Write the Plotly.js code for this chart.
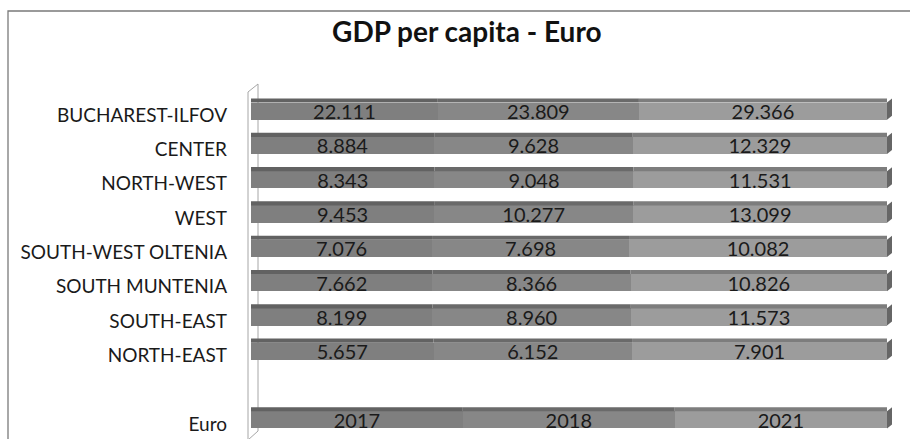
<!DOCTYPE html>
<html>
<head>
<meta charset="utf-8">
<script src="https://cdn.plot.ly/plotly-3.0.1.min.js"></script>
<style>
html,body{margin:0;padding:0;background:#fff;}
#chart{width:910px;height:439px;}
</style>
</head>
<body>
<div id="chart"></div>
<script>
// ---- data ----
var regions = ['BUCHAREST-ILFOV','CENTER','NORTH-WEST','WEST','SOUTH-WEST OLTENIA','SOUTH MUNTENIA','SOUTH-EAST','NORTH-EAST','Euro'];
var years = ['2017','2018','2021'];
var v2017 = [22.111, 8.884, 8.343, 9.453, 7.076, 7.662, 8.199, 5.657, 2017];
var v2018 = [23.809, 9.628, 9.048, 10.277, 7.698, 8.366, 8.960, 6.152, 2018];
var v2021 = [29.366, 12.329, 11.531, 13.099, 10.082, 10.826, 11.573, 7.901, 2021];

// ---- styling ----
var faceColors = ['#7f7f7f', '#878787', '#9c9c9c'];
var topColors  = ['#626262', '#6a6a6a', '#7d7d7d'];
var capColor = '#666666';
var FONT = 'Lato, "Open Sans", sans-serif';
var BARW = 0.5;

// row positions: one empty slot before the last row
var pos = regions.map(function(r, i){ return i < regions.length - 1 ? i : i + 1; });

function fmt(v){ return v >= 1000 ? String(v) : v.toFixed(3); }

var series = [v2017, v2018, v2021];
var traces = series.map(function(vals, k){
  return {
    type: 'bar', orientation: 'h', name: years[k],
    x: vals, y: pos,
    width: BARW,
    marker: {color: faceColors[k], line: {width: 0}},
    text: vals.map(fmt),
    textposition: 'inside', insidetextanchor: 'middle',
    insidetextfont: {family: FONT, size: 20, color: '#1a1a1a'},
    textangle: 0, constraintext: 'none',
    hoverinfo: 'skip'
  };
});

var shapes = [];
// outer frame
shapes.push({type:'rect', xref:'paper', yref:'paper', xsizemode:'pixel', ysizemode:'pixel',
  xanchor:0, yanchor:1, x0:-243, x1:700, y0:83, y1:-400,
  line:{color:'#7a7a7a', width:1.3}, fillcolor:'rgba(0,0,0,0)', layer:'below'});
// 3D wall on the left
shapes.push({type:'path', xref:'paper', yref:'paper', xsizemode:'pixel', ysizemode:'pixel',
  xanchor:0, yanchor:0, path:'M-3,-3 L-3,345 L7,353 L7,6 Z',
  line:{color:'#a6a6a6', width:1}, fillcolor:'rgba(255,255,255,0)', layer:'below'});

// top strips and right caps computed from data
regions.forEach(function(r, i){
  var vals = series.map(function(s){ return s[i]; });
  var tot = vals.reduce(function(a,b){return a+b;}, 0);
  var cum = 0;
  vals.forEach(function(v, k){
    var x0 = cum / tot; cum += v; var x1 = cum / tot;
    shapes.push({type:'rect', xref:'x', yref:'y', x0:x0, x1:x1,
      y0: pos[i] - BARW/2 - 0.12, y1: pos[i] - BARW/2,
      fillcolor: topColors[k], line:{width:0}, layer:'above'});
  });
  shapes.push({type:'path', xref:'x', yref:'y', xsizemode:'pixel', ysizemode:'pixel',
    xanchor:1, yanchor:pos[i], path:'M0,8.6 L5,12.6 L5,-4.6 L0,-8.6 Z',
    fillcolor: capColor, line:{width:0}, layer:'above'});
});

var layout = {
  width: 910, height: 439,
  margin: {l: 251, r: 15, t: 94, b: 2, pad: 0},
  paper_bgcolor: '#ffffff', plot_bgcolor: 'rgba(0,0,0,0)',
  barmode: 'stack', barnorm: 'fraction',
  showlegend: false,
  title: {text: '<b>GDP per capita - Euro</b>', font: {family: FONT, size: 28, color: '#111111'},
    xref: 'container', x: 0.513, xanchor: 'center', yref: 'container', y: 0.926, yanchor: 'middle'},
  xaxis: {range: [0, 644/636], visible: false, fixedrange: true},
  yaxis: {
    range: [9.5, -0.5], tickmode: 'array', tickvals: pos, ticktext: regions,
    showgrid: false, zeroline: false, showline: false, ticks: '',
    tickfont: {family: FONT, size: 19, color: '#1a1a1a'},
    ticklabelstandoff: 23, ticklabelshift: -4, fixedrange: true
  },
  shapes: shapes
};

Plotly.newPlot('chart', traces, layout, {displayModeBar: false, staticPlot: true});
</script>
</body>
</html>
